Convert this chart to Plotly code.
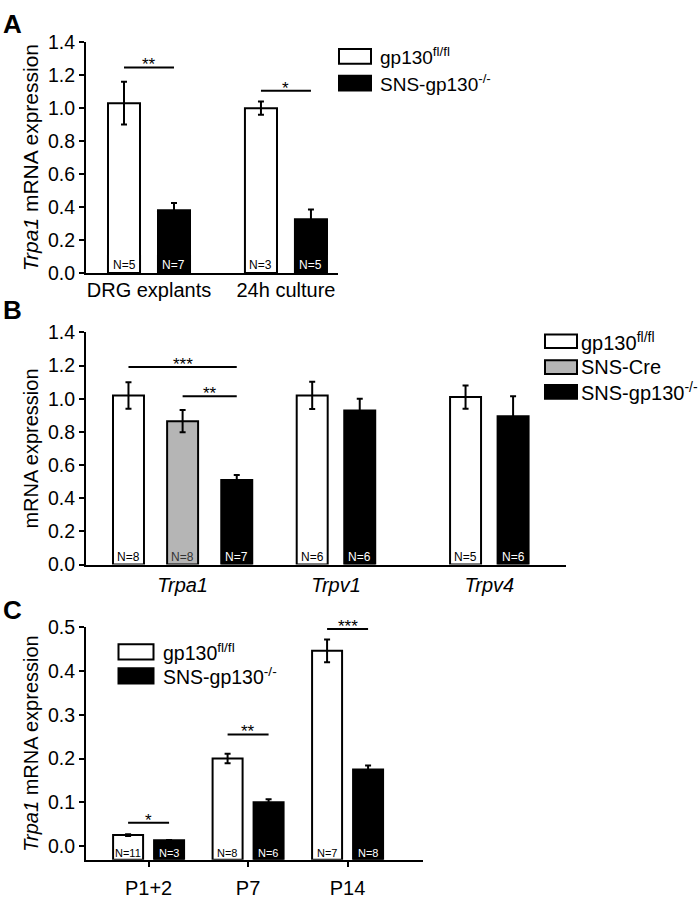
import plotly.graph_objects as go

W, H = 698, 899
FONT = "Arial, Liberation Sans, Helvetica, sans-serif"

# ---------------- data ----------------
# Panel A
a_categories = ["DRG explants", "24h culture"]
a_flox_mean = [1.03, 1.00]
a_flox_err = [0.13, 0.04]
a_ko_mean = [0.38, 0.325]
a_ko_err = [0.045, 0.06]
a_flox_n = ["N=5", "N=3"]
a_ko_n = ["N=7", "N=5"]
a_sig = [("DRG explants", 1.247, "**"), ("24h culture", 1.105, "*")]

# Panel B
b_categories = ["Trpa1", "Trpv1", "Trpv4"]
b_flox_mean = [1.02, 1.02, 1.01]
b_flox_err = [0.08, 0.082, 0.07]
b_cre_categories = ["Trpa1"]
b_cre_mean = [0.865]
b_cre_err = [0.067]
b_ko_mean = [0.51, 0.93, 0.895]
b_ko_err = [0.03, 0.07, 0.12]
b_flox_n = ["N=8", "N=6", "N=5"]
b_cre_n = ["N=8"]
b_ko_n = ["N=7", "N=6", "N=6"]
b_sig = [("Trpa1", "flox", "ko", 1.191, "***"), ("Trpa1", "cre", "ko", 1.015, "**")]

# Panel C
c_categories = ["P1+2", "P7", "P14"]
c_flox_mean = [0.025, 0.200, 0.446]
c_flox_err = [0.002, 0.011, 0.026]
c_ko_mean = [0.013, 0.100, 0.175]
c_ko_err = [0.001, 0.007, 0.009]
c_flox_n = ["N=11", "N=8", "N=7"]
c_ko_n = ["N=3", "N=6", "N=8"]
c_sig = [("P1+2", 0.053, "*"), ("P7", 0.255, "**"), ("P14", 0.496, "***")]

# ---------------- styles / layout helpers ----------------
WHITE, GRAY, BLACK = "#ffffff", "#b5b5b5", "#000000"


def px(x):
    return x / W


def py(y):
    return 1 - y / H


fig = go.Figure()
shapes = []
annotations = []


def add_bars(cats, vals, errs, centers, width, fill, xa, ya, name, base=0.0):
    offsets = [c - width / 2 for c in centers]
    fig.add_trace(go.Bar(
        x=cats, y=[v - base for v in vals], base=base,
        width=width, offset=offsets, name=name,
        marker=dict(color=fill, line=dict(color=BLACK, width=2)),
        error_y=dict(type="data", array=errs, color=BLACK, thickness=2, width=3),
        xaxis=xa, yaxis=ya, showlegend=False,
    ))


def add_n_labels(cats, labels, centers, xref, yref, ymin, color, size):
    for i, (c, t) in enumerate(zip(cats, labels)):
        if t is None:
            continue
        annotations.append(dict(
            x=i + centers[i], y=ymin, xref=xref, yref=yref, text=t,
            showarrow=False, yanchor="bottom", xanchor="center", yshift=-1,
            font=dict(family=FONT, size=size, color=color)))


def add_sig(x0, x1, y, txt, xref, yref):
    shapes.append(dict(type="line", xref=xref, yref=yref, x0=x0, x1=x1, y0=y, y1=y,
                       line=dict(color=BLACK, width=2)))
    annotations.append(dict(x=(x0 + x1) / 2, y=y, xref=xref, yref=yref, text=txt,
                            showarrow=False, yanchor="bottom", yshift=-9,
                            font=dict(family=FONT, size=17, color=BLACK)))


def add_legend(x_box, x_text, rows, bw, bh, size):
    for (yc, fill, txt) in rows:
        shapes.append(dict(type="rect", xref="paper", yref="paper",
                           x0=px(x_box), x1=px(x_box + bw),
                           y0=py(yc + bh / 2), y1=py(yc - bh / 2),
                           fillcolor=fill, line=dict(color=BLACK, width=2)))
        annotations.append(dict(x=px(x_text), y=py(yc), xref="paper", yref="paper",
                                text=txt, showarrow=False, xanchor="left", yanchor="middle",
                                font=dict(family=FONT, size=size, color=BLACK)))


FLOX = "gp130<sup>fl/fl</sup>"
KO = "SNS-gp130<sup>-/-</sup>"
CRE = "SNS-Cre"

# ---------------- Panel A ----------------
a_w = 0.234
a_d = 0.1825
a_fc = [-a_d] * len(a_categories)
a_kc = [a_d] * len(a_categories)
add_bars(a_categories, a_flox_mean, a_flox_err, a_fc, a_w, WHITE, "x", "y", FLOX)
add_bars(a_categories, a_ko_mean, a_ko_err, a_kc, a_w, BLACK, "x", "y", KO)
add_n_labels(a_categories, a_flox_n, a_fc, "x", "y", 0, BLACK, 12)
add_n_labels(a_categories, a_ko_n, a_kc, "x", "y", 0, WHITE, 12)
for cat, lvl, txt in a_sig:
    i = a_categories.index(cat)
    add_sig(i - a_d, i + a_d, lvl, txt, "x", "y")
add_legend(339, 378, [(46.5, WHITE, FLOX), (74, BLACK, KO)], 32, 15, 19)

# ---------------- Panel B ----------------
b_w = 0.202
b_fc = [-0.353, -0.155, -0.155]
b_cc = [0.0]
b_kc = [0.353, 0.155, 0.155]
add_bars(b_categories, b_flox_mean, b_flox_err, b_fc, b_w, WHITE, "x2", "y2", FLOX)
add_bars(b_cre_categories, b_cre_mean, b_cre_err, b_cc, b_w, GRAY, "x2", "y2", CRE)
add_bars(b_categories, b_ko_mean, b_ko_err, b_kc, b_w, BLACK, "x2", "y2", KO)
add_n_labels(b_categories, b_flox_n, b_fc, "x2", "y2", 0, BLACK, 12)
add_n_labels(b_cre_categories, b_cre_n, b_cc, "x2", "y2", 0, "#333333", 12)
add_n_labels(b_categories, b_ko_n, b_kc, "x2", "y2", 0, WHITE, 12)
b_center = {"flox": b_fc, "cre": b_cc, "ko": b_kc}
for cat, s0, s1, lvl, txt in b_sig:
    i = b_categories.index(cat)
    add_sig(i + b_center[s0][i], i + b_center[s1][i], lvl, txt, "x2", "y2")
add_legend(545, 579, [(338.5, WHITE, FLOX), (365, GRAY, CRE), (390.5, BLACK, KO)], 32, 14, 20)

# ---------------- Panel C ----------------
c_ymin = -0.0312
c_w = 0.3015
c_d = 0.206
c_fc = [-c_d] * len(c_categories)
c_kc = [c_d] * len(c_categories)
add_bars(c_categories, c_flox_mean, c_flox_err, c_fc, c_w, WHITE, "x3", "y3", FLOX, base=c_ymin)
add_bars(c_categories, c_ko_mean, c_ko_err, c_kc, c_w, BLACK, "x3", "y3", KO, base=c_ymin)
add_n_labels(c_categories, c_flox_n, c_fc, "x3", "y3", c_ymin, BLACK, 11)
add_n_labels(c_categories, c_ko_n, c_kc, "x3", "y3", c_ymin, WHITE, 11)
for cat, lvl, txt in c_sig:
    i = c_categories.index(cat)
    add_sig(i - c_d, i + c_d, lvl, txt, "x3", "y3")
add_legend(118.5, 161, [(657, WHITE, FLOX), (681.5, BLACK, KO)], 35, 15.5, 19.5)

# ---------------- panel letters ----------------
for letter, yy in [("A", 13), ("B", 307), ("C", 614)]:
    annotations.append(dict(x=px(1), y=py(yy), xref="paper", yref="paper", text="<b>%s</b>" % letter,
                            showarrow=False, xanchor="left", yanchor="middle",
                            font=dict(family=FONT, size=26, color=BLACK)))


# ---------------- axes ----------------
def yaxis(domain, rng, dtick, title, anchor, tsize=20):
    return dict(domain=domain, range=rng, anchor=anchor, dtick=dtick, tick0=0, tickformat=".1f",
                showline=True, linewidth=2, linecolor=BLACK, ticks="outside", ticklen=5,
                tickwidth=2, tickcolor=BLACK, showgrid=False, zeroline=False,
                tickfont=dict(family=FONT, size=19.5, color=BLACK),
                title=dict(text=title, font=dict(family=FONT, size=tsize, color=BLACK), standoff=4))


def xaxis(domain, rng, anchor, ticks, ticklen, standoff):
    return dict(domain=domain, range=rng, anchor=anchor, type="category",
                showline=True, linewidth=2, linecolor=BLACK, ticks=ticks, ticklen=ticklen,
                tickwidth=2, tickcolor=BLACK, showgrid=False, zeroline=False,
                ticklabelstandoff=standoff,
                tickfont=dict(family=FONT, size=20, color=BLACK))


b_ticktext = ["<i>%s</i>" % c for c in b_categories]

fig.update_layout(
    width=W, height=H, margin=dict(l=0, r=0, t=0, b=0),
    paper_bgcolor="white", plot_bgcolor="white", barmode="overlay",
    font=dict(family=FONT, color=BLACK),
    xaxis=xaxis([px(86), px(338)], [-0.46, 1.38], "y", "", 0, -2),
    yaxis=yaxis([py(268.5), py(32)], [0, 1.4], 0.2, "<i>Trpa1</i> mRNA expression", "x", 21),
    xaxis2=dict(xaxis([px(86), px(566)], [-0.63, 2.50], "y2", "", 0, 1),
                tickvals=b_categories, ticktext=b_ticktext),
    yaxis2=yaxis([py(567.5), py(329.5)], [0, 1.4], 0.2, "mRNA expression", "x2"),
    xaxis3=xaxis([px(86), px(423)], [-0.629, 2.758], "y3", "outside", 5, 4),
    yaxis3=yaxis([py(870), py(631.7)], [c_ymin, 0.5], 0.1, "<i>Trpa1</i> mRNA expression", "x3"),
    shapes=shapes, annotations=annotations,
)

fig.write_html(
    "out.html",
    config={"displayModeBar": False},
    post_script="document.body.style.margin='0px';document.body.style.padding='0px';"
                "document.body.style.overflow='hidden';",
)
